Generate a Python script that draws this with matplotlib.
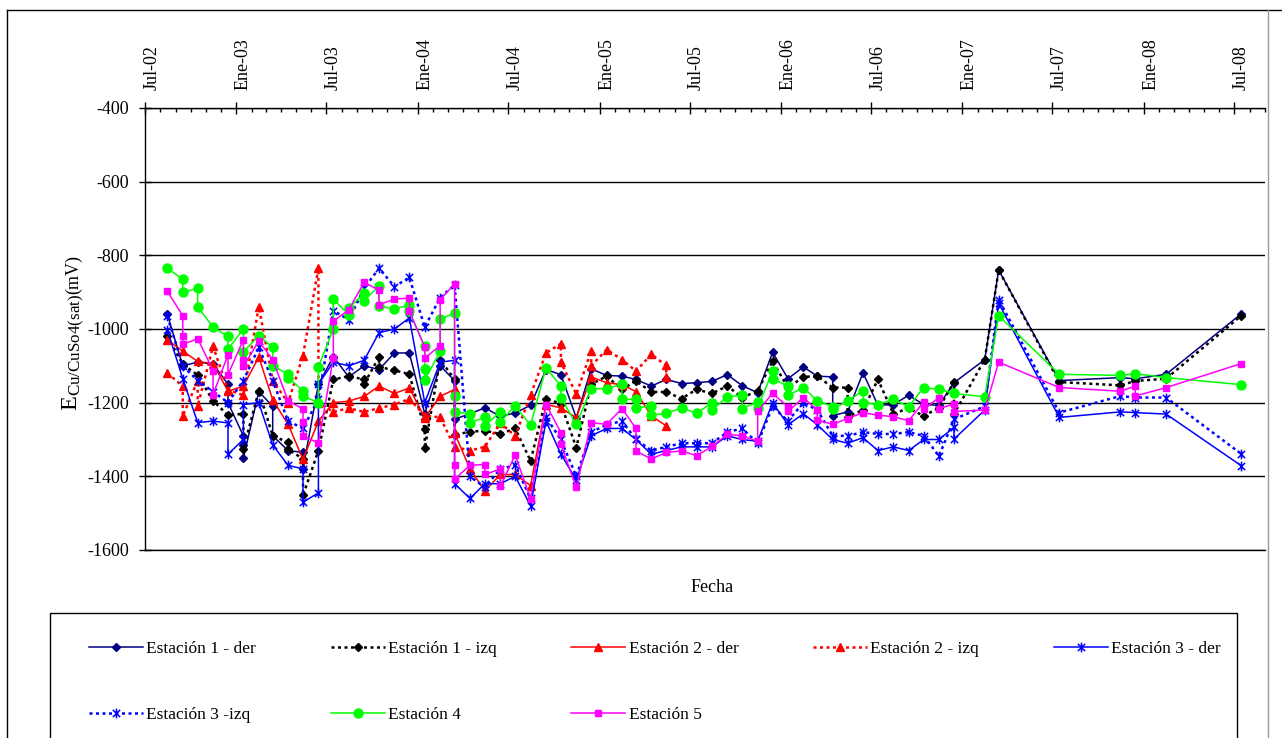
import numpy as np
import pandas as pd
import matplotlib
matplotlib.use("Agg")
import matplotlib.pyplot as plt
import matplotlib.dates as mdates
from matplotlib.path import Path
from matplotlib.lines import Line2D
from matplotlib.patches import Rectangle
from matplotlib.transforms import ScaledTranslation

plt.rcParams['font.family'] = ['Liberation Serif', 'DejaVu Serif']
plt.rcParams['mathtext.fontset'] = 'custom'
plt.rcParams['mathtext.rm'] = 'Liberation Serif'
plt.rcParams['mathtext.it'] = 'Liberation Serif:italic'
plt.rcParams['axes.unicode_minus'] = False

# === DATA (mV vs campaign date) ===
fechas = ['2002-08-15', '2002-09-15', '2002-10-15', '2002-11-15', '2002-12-15',
          '2003-01-15', '2003-02-15', '2003-03-15', '2003-04-15', '2003-05-15',
          '2003-06-15', '2003-07-15', '2003-08-15', '2003-09-15', '2003-10-15',
          '2003-11-15', '2003-12-15', '2004-01-15', '2004-02-15', '2004-03-15',
          '2004-04-15', '2004-05-15', '2004-06-15', '2004-07-15', '2004-08-15',
          '2004-09-15', '2004-10-15', '2004-11-15', '2004-12-15', '2005-01-15',
          '2005-02-15', '2005-03-15', '2005-04-15', '2005-05-15', '2005-06-15',
          '2005-07-15', '2005-08-15', '2005-09-15', '2005-10-15', '2005-11-15',
          '2005-12-15', '2006-01-15', '2006-02-15', '2006-03-15', '2006-04-15',
          '2006-05-15', '2006-06-15', '2006-07-15', '2006-08-15', '2006-09-15',
          '2006-10-15', '2006-11-15', '2006-12-15', '2007-02-15', '2007-03-15',
          '2007-07-15', '2007-11-15', '2007-12-15', '2008-02-15', '2008-07-15']

# tuples = several readings in the same campaign
est1_der = [-960, -1100, -1090, -1095, (-1150, -1200), (-1290, -1315, -1350), -1170,
            (-1210, -1290), -1330, (-1335, -1380), -1150, -1075, -1130, -1100, -1110,
            -1065, -1065, -1230, -1100, (-1140, -1245), -1230, -1214, -1237, -1228,
            -1207, -1110, -1124, -1241, -1108, -1126, -1128, -1137, -1155, -1137,
            -1148, -1146, -1142, -1124, -1154, -1173, -1063, -1135, -1103, -1128,
            (-1130, -1235), -1225, -1119, -1207, -1205, -1180, -1205, -1207, -1146,
            -1083, -840, -1140, -1132, -1135, -1123, -959]
est1_izq = [-1020, -1096, -1125, -1195, -1234, (-1230, -1326), -1168, -1290,
            (-1308, -1326), (-1353, -1452), -1330, -1137, -1128, (-1137, -1149),
            (-1076, -1103), -1112, -1123, (-1272, -1324), -1083, (-1137, -1287),
            -1279, -1276, -1285, -1270, -1358, -1189, -1203, -1322, -1150, -1128,
            -1164, -1141, -1171, -1171, -1189, -1164, -1175, -1155, -1186, -1168,
            -1087, -1160, -1130, -1128, -1159, (-1159, -1238), -1220, -1137, -1230,
            -1215, -1236, -1214, (-1144, -1231), -1083, -840, -1144, -1153, -1141,
            -1135, -964]
est2_der = [-1030, -1060, -1088, -1094, -1169, -1155, -1076, -1192, -1259, -1354,
            -1250, -1200, -1196, -1183, -1155, -1175, -1160, -1241, -1183,
            (-1164, -1282), -1380, -1440, -1395, -1395, -1425, -1205, -1214, -1241,
            -1130, -1146, -1151, -1170, -1236, -1263]
est2_izq = [-1120, (-1155, -1236), (-1140, -1210), -1047, -1165, -1180, -939, -1140,
            -1200, -1072, (-835, -1200), -1225, -1215, -1225, -1215, -1205, -1190,
            -1235, -1240, -1320, -1330, -1320, -1255, -1290, -1180, -1065,
            (-1040, -1090), -1177, (-1060, -1100), -1056, -1083, -1114, -1069,
            (-1099, -1130)]
est3_der = [-1002, -1135, -1254, -1250, (-1255, -1340), (-1300, -1205), -1200, -1315,
            -1370, (-1380, -1470), (-1445, -1150), -1090, -1100, -1085, -1010, -1000,
            -970, -1200, -1090, (-1085, -1420), -1460, -1420, -1420, -1400, -1480,
            -1250, -1340, -1410, -1290, -1270, -1270, -1300, -1340, -1330, -1320,
            -1320, -1320, -1290, -1300, -1305, -1200, -1260, -1230, -1260, -1300,
            -1310, -1295, -1330, -1320, -1330, -1300, -1300, (-1267, -1299), -1220,
            -930, -1240, -1225, -1227, -1231, -1371]
est3_izq = [-966, -1100, -1140, -1170, -1200, -1140, -1050, -1140, -1250, -1270,
            -1190, -950, -975, -890, -835, -885, -860, -995, -915, -880, -1400,
            -1430, -1380, -1370, -1460, -1240, -1300, -1400, -1280, -1260, -1250,
            -1300, -1330, -1320, -1310, -1310, -1310, -1280, -1270, -1310, -1210,
            -1250, -1200, -1220, -1290, -1290, -1280, -1285, -1285, -1280, -1290,
            -1345, -1245, -1210, -920, -1227, -1182, -1186, -1186, -1339]
est4 = [-835, (-865, -900), (-890, -940), -995, (-1020, -1055), (-1000, -1062), -1018,
        (-1050, -1100), (-1123, -1132), (-1168, -1182), (-1200, -1103), (-1000, -919),
        (-961, -943), (-903, -923), (-883, -937), -946, (-934, -952),
        (-1047, -1108, -1139), (-1060, -973), (-957, -1182, -1224), (-1231, -1254),
        (-1240, -1263), (-1224, -1252), -1209, -1261, -1105, (-1155, -1186), -1259,
        -1162, -1162, (-1150, -1191), (-1191, -1214), (-1209, -1234), -1229, -1214,
        -1229, (-1200, -1220), -1184, (-1180, -1216), (-1198, -1214), (-1114, -1135),
        (-1155, -1180), -1159, -1195, (-1211, -1218), -1195, (-1168, -1200), -1205,
        -1191, -1211, -1159, -1164, -1175, -1184, -964, -1123, -1126, -1121, -1132,
        -1151]
est5 = [-898, (-964, -1020, -1042), -1026, (-1113, -1178), (-1070, -1124),
        (-1029, -1083, -1101), -1033, -1083, -1195, (-1217, -1253, -1291), -1309,
        (-1079, -979), -948, -873, (-895, -934), -919, (-916, -952), (-1049, -1079),
        (-1045, -920), (-878, -1368, -1408), -1370, (-1368, -1395), (-1380, -1427),
        -1342, -1461, -1205, (-1281, -1313), -1430, -1254, -1259, -1216,
        (-1270, -1331), -1353, -1335, -1331, -1344, -1319, -1286, -1290,
        (-1305, -1223), -1175, (-1211, -1223), -1187, (-1220, -1247), -1259, -1243,
        -1227, -1234, -1238, -1249, (-1198, -1218), (-1186, -1216), (-1204, -1224),
        -1220, -1090, -1159, -1169, (-1155, -1182), -1159, -1094]

nombres = ['Estación 1 - der', 'Estación 1 - izq', 'Estación 2 - der', 'Estación 2 - izq',
           'Estación 3 - der', 'Estación 3 -izq', 'Estación 4', 'Estación 5']
series = [est1_der, est1_izq, est2_der, est2_izq, est3_der, est3_izq, est4, est5]

meses = {1: 'Ene', 7: 'Jul'}

# === styles ===
star = Path([(0, -1), (0, 1), (-0.75, -0.75), (0.75, 0.75), (-0.75, 0.75), (0.75, -0.75)],
            [Path.MOVETO, Path.LINETO, Path.MOVETO, Path.LINETO, Path.MOVETO, Path.LINETO])
punteado = (0, (1.2, 1.4))
estilos = [
    dict(color='#000080', ls='-', marker='D', ms=4),
    dict(color='black', ls=punteado, marker='D', ms=4, lw=1.8),
    dict(color='#FF0000', ls='-', marker='^', ms=5.5),
    dict(color='#FF0000', ls=punteado, marker='^', ms=5.5, lw=1.8),
    dict(color='#0000FF', ls='-', marker=star, ms=7, mew=1.1),
    dict(color='#0000FF', ls=punteado, marker=star, ms=7, mew=1.1, lw=1.8),
    dict(color='#00FF00', ls='-', marker='o', ms=6.5),
    dict(color='#FF00FF', ls='-', marker='s', ms=4.5),
]


def expandir(valores):
    xs, ys = [], []
    for f, v in zip(fechas, valores):
        if v is None:
            continue
        for vi in (v if isinstance(v, tuple) else (v,)):
            xs.append(pd.Timestamp(f))
            ys.append(vi)
    return xs, ys


fig = plt.figure(figsize=(12.82, 7.38), dpi=100)
ax = fig.add_axes([145 / 1282, 1 - 550 / 738, 1120 / 1282, 442 / 738])

lineas = []
for nombre, vals, est in zip(nombres, series, estilos):
    st = dict(lw=1.1, mec=est['color'], mfc=est['color'])
    st.update(est)
    xs, ys = expandir(vals)
    lineas += ax.plot(xs, ys, label=nombre, **st)

ax.set_ylim(-1600, -400)
ax.set_yticks(np.arange(-1600, -399, 200))
ax.set_xlim(pd.Timestamp('2002-07-01'), pd.Timestamp('2008-09-01'))
ax.grid(axis='y', color='black', lw=1)
ax.set_axisbelow(True)

ax.xaxis.tick_top()
ax.xaxis.set_major_locator(mdates.MonthLocator(bymonth=[1, 7]))
ax.xaxis.set_minor_locator(mdates.MonthLocator())
ax.xaxis.set_major_formatter(plt.FuncFormatter(
    lambda x, pos: f"{meses[mdates.num2date(x).month]}-{mdates.num2date(x):%y}"))
ax.tick_params(axis='x', which='major', direction='inout', length=8.6, width=1,
               pad=8.5, labelsize=13, labelrotation=90)
ax.tick_params(axis='x', which='minor', direction='in', length=3, width=1)
ax.tick_params(axis='y', direction='inout', length=8.6, width=1, pad=7, labelsize=13)
for lab in ax.get_xticklabels():
    lab.set_transform(lab.get_transform() + ScaledTranslation(7 / 100, 0, fig.dpi_scale_trans))

ax.spines['right'].set_visible(False)
for s in ['top', 'left', 'bottom']:
    ax.spines[s].set_linewidth(1)

fig.text(712 / 1282, 1 - 588 / 738, 'Fecha', ha='center', va='center', fontsize=13)
fig.text(78 / 1282, 1 - 294 / 738, r'E$_{\mathrm{Cu/CuSo4(sat)}}$', rotation=90,
         rotation_mode='anchor', ha='right', va='baseline', fontsize=17.5)
fig.text(78 / 1282, 1 - 294 / 738, '(mV)', rotation=90, rotation_mode='anchor',
         ha='left', va='baseline', fontsize=13)

# chart area border
fig.add_artist(Line2D([6.6 / 1282, 6.6 / 1282], [0, 1 - 10 / 738], color='black', lw=1))
fig.add_artist(Line2D([6.6 / 1282, 1], [1 - 10 / 738, 1 - 10 / 738], color='black', lw=1))
fig.add_artist(Line2D([1268 / 1282, 1268 / 1282], [0, 1 - 10 / 738], color='#999999', lw=1))

# legend, filled row by row like the original (matplotlib fills by column)
orden = [0, 5, 1, 6, 2, 7, 3, 4]
fig.add_artist(Rectangle((50 / 1282, -0.05), (1237 - 50) / 1282, 0.05 + 125 / 738,
                         transform=fig.transFigure, fill=False, ec='black', lw=1))
fig.legend([lineas[i] for i in orden], [nombres[i] for i in orden],
           loc='upper left', bbox_to_anchor=(89 / 1282, 1 - 641 / 738), ncol=5,
           frameon=False, fontsize=12.5, handlelength=3.1, handletextpad=0.2,
           columnspacing=4.3, labelspacing=2.85, numpoints=1, borderpad=0, borderaxespad=0)

fig.savefig('out.png', dpi=100)
